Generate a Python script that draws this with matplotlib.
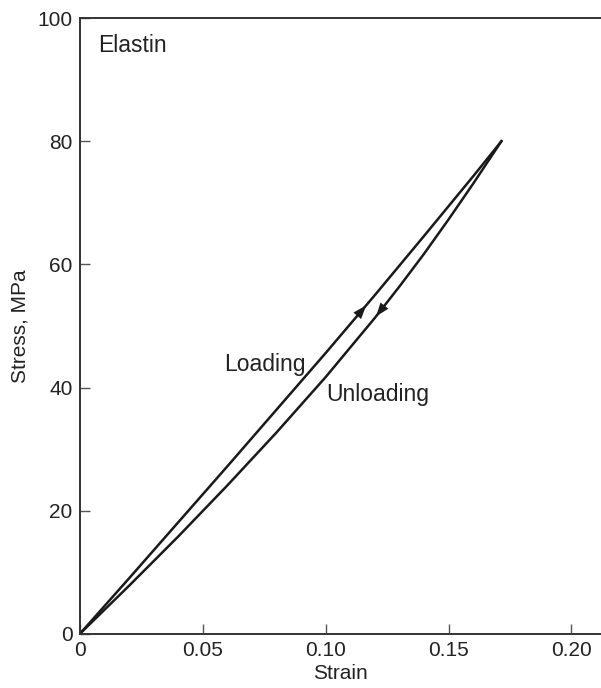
import matplotlib
matplotlib.use("Agg")
import matplotlib.pyplot as plt
import numpy as np

# loading branch (strain, stress in MPa)
strain_load = [0, 0.02, 0.04, 0.06, 0.08, 0.10, 0.12, 0.14, 0.16, 0.1715]
stress_load = [0, 9.0, 18.1, 27.2, 36.4, 45.6, 55.0, 64.6, 74.3, 80.0]

# unloading branch, from peak back to origin
strain_unload = [0.1715, 0.16, 0.15, 0.14, 0.13, 0.12, 0.10, 0.08, 0.06, 0.04, 0.02, 0]
stress_unload = [80.0, 73.1, 67.3, 61.7, 56.4, 51.3, 41.7, 32.7, 24.1, 15.8, 7.8, 0]

x_ticks = [0, 0.05, 0.10, 0.15, 0.20]
x_labels = ["0", "0.05", "0.10", "0.15", "0.20"]
y_ticks = [0, 20, 40, 60, 80, 100]

plt.rcParams["font.family"] = ["Liberation Sans", "DejaVu Sans"]
FS = 15
FS_NOTE = 16.5
INK = "#1a1a1a"

fig = plt.figure(figsize=(6.01, 6.88), dpi=100)
ax = fig.add_axes([0.1326, 0.0785, 0.8674, 0.8953])

ax.plot(strain_load, stress_load, color=INK, lw=1.8)
ax.plot(strain_unload, stress_unload, color=INK, lw=1.8)


def arrow_on(xs, ys, x_tail, x_tip):
    # arrowhead sitting on the curve, pointing from x_tail to x_tip
    order = np.argsort(xs)
    xa, ya = np.asarray(xs)[order], np.asarray(ys)[order]
    tail = (x_tail, np.interp(x_tail, xa, ya))
    tip = (x_tip, np.interp(x_tip, xa, ya))
    ax.annotate("", xy=tip, xytext=tail,
                arrowprops=dict(arrowstyle="-|>,head_length=0.55,head_width=0.2",
                                color=INK, lw=0, mutation_scale=18,
                                shrinkA=0, shrinkB=0))


arrow_on(strain_load, stress_load, 0.112, 0.1165)
arrow_on(strain_unload, stress_unload, 0.1245, 0.1205)

ax.text(0.0074, 95.6, "Elastin", fontsize=FS_NOTE, ha="left", va="center", color="#222222")
ax.text(0.0917, 43.7, "Loading", fontsize=FS_NOTE, ha="right", va="center", color="#222222")
ax.text(0.1001, 38.8, "Unloading", fontsize=FS_NOTE, ha="left", va="center", color="#222222")

ax.set_xlim(0, 0.212)
ax.set_ylim(0, 100)
ax.set_xticks(x_ticks)
ax.set_xticklabels(x_labels)
ax.set_yticks(y_ticks)
ax.tick_params(direction="in", length=7, width=1, color="#555555",
               labelsize=FS, labelcolor="#222222", pad=5)

ax.spines["right"].set_visible(False)
for s in ("left", "bottom", "top"):
    ax.spines[s].set_linewidth(1.4)
    ax.spines[s].set_color("#333333")

ax.set_xlabel("Strain", fontsize=FS, color="#222222", labelpad=3)
ax.set_ylabel("Stress, MPa", fontsize=FS, color="#222222", labelpad=6)

fig.savefig("out.png", dpi=100)
